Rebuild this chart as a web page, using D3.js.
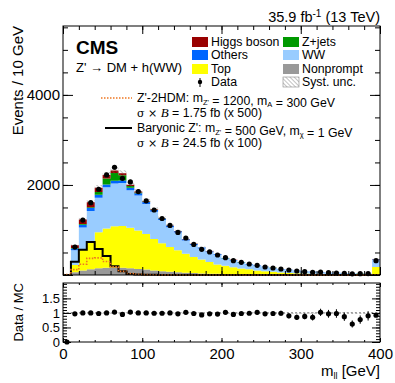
<!DOCTYPE html>
<meta charset="utf-8">
<style>
body { margin: 0; background: #fff; font-family: "Liberation Sans", Arial, Helvetica, sans-serif; }
svg text { fill: #000; }
</style>
<body>
<script src="https://d3js.org/d3.v7.min.js"></script>
<script>
// bin low edges, 10 GeV wide (last bin includes overflow)
var binLow = [0,10,20,30,40,50,60,70,80,90,100,110,120,130,140,150,160,170,180,190,
              200,210,220,230,240,250,260,270,280,290,300,310,320,330,340,350,360,370,380,390];

// background processes, events / 10 GeV
var nonprompt = [2,60,100,130,150,160,165,160,150,135,120,100,85,72,60,50,42,35,30,25,
                 20,17,14,12,10,8,7,6,5,4,3,3,2,2,2,2,2,1,1,10];
var topq      = [3,160,460,590,800,870,915,930,900,855,790,700,620,548,490,420,358,310,260,210,
                 185,153,131,113,90,74,63,49,41,34,30,26,24,20,17,15,13,13,12,168];
var ww        = [5,330,495,702,768,917,953,951,832,777,669,605,515,440,392,298,265,243,214,208,
                 155,151,129,110,101,93,81,72,64,56,48,42,37,32,28,25,22,20,18,156];
var others    = [0,40,60,65,65,65,60,55,55,50,45,40,35,32,28,25,22,20,18,16,
                 14,12,11,10,9,8,7,6,5,5,4,4,3,3,3,3,2,2,2,10];
var zjets     = [0,10,15,20,60,130,170,120,40,15,8,6,5,4,4,3,3,3,2,2,
                 2,2,1,1,1,1,1,1,1,1,1,1,1,1,1,1,1,1,1,2];
var higgs     = [0,60,105,110,96,80,60,45,30,20,12,8,5,4,3,3,2,2,2,1,
                 1,1,1,1,1,1,1,1,1,1,0,0,0,0,0,0,0,0,0,2];

// observed data
var data = [0,620,1220,1607,1904,2222,2393,2148,2067,1852,1648,1444,1255,1100,945,822,678,570,512,444,
            385,319,281,244,215,178,156,133,111,89,74,59,67,52,44,37,26,29,31,319];
var ratio = [0,0.97,1.0,1.0,0.98,1.0,1.03,0.95,1.03,1.0,1.0,0.99,0.99,1.0,0.97,1.02,0.98,0.93,0.97,0.96,
             1.02,0.95,0.98,0.99,1.02,0.97,0.98,0.99,0.9,0.85,0.88,0.85,1.02,0.97,0.98,0.87,0.62,0.77,0.9,0.92];

// signals (scaled)
var z2hdm    = [10,120,240,370,380,300,180,80,30,15,8,5,3,2,2,1,1,1,1,1,
                1,1,1,0,0,0,0,0,0,0,0,0,0,0,0,0,0,0,0,0];
var baryonic = [0,296,560,735,580,420,195,85,22,10,5,3,2,1,1,1,1,1,1,0,
                0,0,0,0,0,0,0,0,0,0,0,0,0,0,0,0,0,0,0,0];

var systFrac = 0.03;

var yMainMajor = [0,2000,4000];
var yMainLabels = [2000,4000];
var yRatioMajor = [0,0.5,1,1.5];
var xMajor = [0,100,200,300,400];

var W = 395, H = 383;
var L = 63, R = 380, mainTop = 26, mainBot = 275, rTop = 283, rBot = 342;

var x = d3.scaleLinear().domain([0,400]).range([L,R]);
var y = d3.scaleLinear().domain([0,5530]).range([mainBot,mainTop]);
var yr = d3.scaleLinear().domain([0,2.03]).range([rBot,rTop]);

var svg = d3.select("body").append("svg").attr("width",W).attr("height",H);

var defs = svg.append("defs");
var pat = defs.append("pattern").attr("id","hatch").attr("patternUnits","userSpaceOnUse")
  .attr("width",3).attr("height",3).attr("patternTransform","rotate(-45)");
pat.append("line").attr("x1",0).attr("y1",0).attr("x2",0).attr("y2",3)
  .attr("stroke","#666").attr("stroke-width",0.8);

var keys = ["nonprompt","top","ww","others","zjets","higgs"];
var colors = {nonprompt:"#999999", top:"#ffff00", ww:"#99ccff", others:"#0066ff", zjets:"#009900", higgs:"#990000"};
var table = binLow.map(function(b,i){
  return {bin:b, nonprompt:nonprompt[i], top:topq[i], ww:ww[i], others:others[i], zjets:zjets[i], higgs:higgs[i]};
});
var series = d3.stack().keys(keys)(table);

var area = d3.area().curve(d3.curveStepAfter)
  .x(function(p){ return x(p.b); })
  .y0(function(p){ return y(p.v0); })
  .y1(function(p){ return y(p.v1); });

series.forEach(function(s){
  var pts = s.map(function(d){ return {b:d.data.bin, v0:d[0], v1:d[1]}; });
  var last = pts[pts.length-1];
  pts.push({b:400, v0:last.v0, v1:last.v1});
  svg.append("path").attr("d", area(pts)).attr("fill", colors[s.key]);
});

// total MC and syst band
var total = series[series.length-1].map(function(d){ return d[1]; });
var band = binLow.map(function(b,i){ return {b:b, v0:total[i]*(1-systFrac), v1:total[i]*(1+systFrac)}; });
band.push({b:400, v0:band[band.length-1].v0, v1:band[band.length-1].v1});
svg.append("path").attr("d", area(band)).attr("fill","url(#hatch)");

// signals
var step = d3.line().curve(d3.curveStepAfter)
  .x(function(p){ return x(p.b); }).y(function(p){ return y(p.v); });
function stepPts(arr){
  var p = binLow.map(function(b,i){ return {b:b, v:arr[i]}; });
  p.push({b:400, v:arr[arr.length-1]});
  return p;
}
svg.append("path").attr("d", step(stepPts(baryonic))).attr("fill","none")
  .attr("stroke","#000").attr("stroke-width",2);
svg.append("path").attr("d", step(stepPts(z2hdm))).attr("fill","none")
  .attr("stroke","#ee7722").attr("stroke-width",1.6).attr("stroke-dasharray","1.5,1.5");

// data points
var pts = binLow.map(function(b,i){ return {c:b+5, v:data[i], r:ratio[i]}; });
var dg = svg.append("g");
dg.selectAll("line").data(pts.filter(function(d){ return d.v > 0; })).join("line")
  .attr("x1", function(d){ return x(d.c); }).attr("x2", function(d){ return x(d.c); })
  .attr("y1", function(d){ return y(d.v + Math.sqrt(d.v)); })
  .attr("y2", function(d){ return y(d.v - Math.sqrt(d.v)); })
  .attr("stroke","#000").attr("stroke-width",1);
dg.selectAll("circle").data(pts.filter(function(d){ return d.v > 0; })).join("circle")
  .attr("cx", function(d){ return x(d.c); }).attr("cy", function(d){ return y(d.v); })
  .attr("r", 2.6).attr("fill","#000");

// ratio panel
svg.append("rect").attr("x",L).attr("y",yr(1+systFrac)).attr("width",R-L)
  .attr("height", yr(1-systFrac)-yr(1+systFrac)).attr("fill","url(#hatch)");
svg.append("line").attr("x1",L).attr("x2",R).attr("y1",yr(1)).attr("y2",yr(1))
  .attr("stroke","#777").attr("stroke-width",1).attr("stroke-dasharray","2,2");
var rg = svg.append("g");
rg.selectAll("line").data(pts.filter(function(d){ return d.v > 0; })).join("line")
  .attr("x1", function(d){ return x(d.c); }).attr("x2", function(d){ return x(d.c); })
  .attr("y1", function(d){ return yr(d.r*(1 + 1/Math.sqrt(d.v))); })
  .attr("y2", function(d){ return yr(d.r*(1 - 1/Math.sqrt(d.v))); })
  .attr("stroke","#000").attr("stroke-width",1);
rg.selectAll("circle").data(pts).join("circle")
  .attr("cx", function(d){ return x(d.c); }).attr("cy", function(d){ return yr(d.r); })
  .attr("r", 2.6).attr("fill","#000");

// frames
[[mainTop,mainBot],[rTop,rBot]].forEach(function(f){
  svg.append("rect").attr("x",L).attr("y",f[0]).attr("width",R-L).attr("height",f[1]-f[0])
    .attr("fill","none").attr("stroke","#000").attr("stroke-width",1);
});

// axes: ticks drawn inward, mirrored
function ticks(g){ g.select(".domain").remove(); g.selectAll("line").attr("stroke","#000"); }
function styleText(g, size){ g.selectAll("text").attr("font-size",size).attr("font-family","Liberation Sans, Arial, sans-serif").attr("fill","#000"); }

var minorMain = d3.range(0,5501,500);
svg.append("g").attr("transform","translate("+L+",0)")
  .call(d3.axisLeft(y).tickValues(minorMain).tickSize(-5).tickFormat("")).call(ticks);
svg.append("g").attr("transform","translate("+R+",0)")
  .call(d3.axisRight(y).tickValues(minorMain).tickSize(-5).tickFormat("")).call(ticks);
svg.append("g").attr("transform","translate("+L+",0)")
  .call(d3.axisLeft(y).tickValues(yMainMajor).tickSize(-10).tickPadding(3)
    .tickFormat(function(d){ return yMainLabels.indexOf(d) >= 0 ? d : ""; }))
  .call(ticks).call(styleText, 15);
svg.append("g").attr("transform","translate("+R+",0)")
  .call(d3.axisRight(y).tickValues(yMainMajor).tickSize(-10).tickFormat("")).call(ticks);

var minorX = d3.range(0,401,20);
[[mainBot, d3.axisBottom, -4, -8],[mainTop, d3.axisTop, -4, -8],[rBot, d3.axisBottom, -2, -4],[rTop, d3.axisTop, -2, -4]].forEach(function(a){
  svg.append("g").attr("transform","translate(0,"+a[0]+")")
    .call(a[1](x).tickValues(minorX).tickSize(a[2]).tickFormat("")).call(ticks);
  svg.append("g").attr("transform","translate(0,"+a[0]+")")
    .call(a[1](x).tickValues(xMajor).tickSize(a[3]).tickFormat("")).call(ticks);
});
svg.append("g").attr("transform","translate(0,"+rBot+")")
  .call(d3.axisBottom(x).tickValues(xMajor).tickSize(0).tickPadding(6).tickFormat(d3.format("d")))
  .call(ticks).call(styleText, 15);

var minorR = d3.range(0,2.01,0.1);
[[L, d3.axisLeft],[R, d3.axisRight]].forEach(function(a){
  svg.append("g").attr("transform","translate("+a[0]+",0)")
    .call(a[1](yr).tickValues(minorR).tickSize(-4).tickFormat("")).call(ticks);
  svg.append("g").attr("transform","translate("+a[0]+",0)")
    .call(a[1](yr).tickValues(yRatioMajor).tickSize(-8).tickFormat("")).call(ticks);
});
svg.append("g").attr("transform","translate("+L+",0)")
  .call(d3.axisLeft(yr).tickValues(yRatioMajor).tickSize(0).tickPadding(3).tickFormat(function(d){ return d; }))
  .call(ticks).call(styleText, 13);

// axis titles
svg.append("text").attr("transform","translate(23,"+mainTop+") rotate(-90)")
  .attr("text-anchor","end").attr("font-size",15).text("Events / 10 GeV");
svg.append("text").attr("transform","translate(23,"+rTop+") rotate(-90)")
  .attr("text-anchor","end").attr("font-size",13).text("Data / MC");
var xl = svg.append("text").attr("x",R).attr("y",376).attr("text-anchor","end").attr("font-size",15);
xl.append("tspan").text("m");
xl.append("tspan").attr("font-size",9).attr("dy",3).text("ll");
xl.append("tspan").attr("dy",-3).text(" [GeV]");

// header
var lumi = svg.append("text").attr("x",R).attr("y",22).attr("text-anchor","end").attr("font-size",14.5);
lumi.append("tspan").text("35.9 fb");
lumi.append("tspan").attr("font-size",10).attr("dy",-5).text("-1");
lumi.append("tspan").attr("dy",5).text(" (13 TeV)");
svg.append("text").attr("x",76).attr("y",54).attr("font-size",19).attr("font-weight","bold").text("CMS");
svg.append("text").attr("x",76).attr("y",72).attr("font-size",13).text("Z' \u2192 DM + h(WW)");

// legend
var legRows = [46,59,73,86];
var legend = [
  {col:0, row:0, label:"Higgs boson", fill:colors.higgs},
  {col:1, row:0, label:"Z+jets", fill:colors.zjets},
  {col:0, row:1, label:"Others", fill:colors.others},
  {col:1, row:1, label:"WW", fill:colors.ww},
  {col:0, row:2, label:"Top", fill:colors.top},
  {col:1, row:2, label:"Nonprompt", fill:colors.nonprompt},
  {col:0, row:3, label:"Data", fill:null},
  {col:1, row:3, label:"Syst. unc.", fill:"url(#hatch)"}
];
var colX = [192, 283];
legend.forEach(function(e){
  var bx = colX[e.col], by = legRows[e.row];
  if (e.fill) {
    svg.append("rect").attr("x",bx).attr("y",by-9).attr("width",16).attr("height",10)
      .attr("fill",e.fill).attr("stroke", e.fill === "url(#hatch)" ? "#888" : "none").attr("stroke-width",0.6);
  } else {
    svg.append("line").attr("x1",bx+8).attr("x2",bx+8).attr("y1",by-8).attr("y2",by+1).attr("stroke","#000");
    svg.append("circle").attr("cx",bx+8).attr("cy",by-4).attr("r",2.2).attr("fill","#000");
  }
  svg.append("text").attr("x",bx+19).attr("y",by).attr("font-size",12.3).text(e.label);
});

// signal legend
svg.append("line").attr("x1",101).attr("x2",132).attr("y1",98).attr("y2",98)
  .attr("stroke","#ee7722").attr("stroke-width",1.6).attr("stroke-dasharray","1.5,1.5");
svg.append("line").attr("x1",105).attr("x2",132).attr("y1",128).attr("y2",128)
  .attr("stroke","#000").attr("stroke-width",2);

function sub(t, main, s){
  t.append("tspan").text(main);
  t.append("tspan").attr("font-size",7.5).attr("dy",2.5).text(s);
  t.append("tspan").attr("dy",-2.5).text("");
}
var t1 = svg.append("text").attr("x",137).attr("y",102).attr("font-size",12.3);
t1.append("tspan").text("Z'-2HDM: ");
sub(t1, "m", "Z'");
t1.append("tspan").text(" = 1200, ");
sub(t1, "m", "A");
t1.append("tspan").text(" = 300 GeV");

function sigmaLine(yy, rest){
  var t = svg.append("text").attr("x",137).attr("y",yy).attr("font-size",12.3);
  t.append("tspan").attr("font-family","DejaVu Serif, serif").attr("font-size",11).text("\u03c3 \u00d7 ");
  t.append("tspan").attr("font-family","Liberation Serif, serif").attr("font-style","italic").attr("font-size",13).text("B");
  t.append("tspan").text(rest);
}
sigmaLine(117, " = 1.75 fb (x 500)");

var t2 = svg.append("text").attr("x",137).attr("y",132).attr("font-size",12.3);
t2.append("tspan").text("Baryonic Z': ");
sub(t2, "m", "Z'");
t2.append("tspan").text(" = 500 GeV, ");
sub(t2, "m", "\u03c7");
t2.append("tspan").text(" = 1 GeV");
sigmaLine(147, " = 24.5 fb (x 100)");
</script>
</body>
